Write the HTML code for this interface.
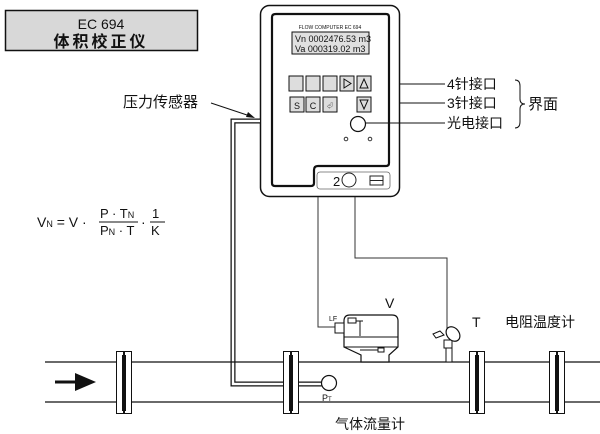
<!DOCTYPE html>
<html><head><meta charset="utf-8"><style>
body{margin:0;background:#fff}
svg{display:block}
text{font-family:"Liberation Sans","Noto Sans CJK SC",sans-serif;fill:#111}
</style></head><body>
<svg width="600" height="434" viewBox="0 0 600 434" xmlns="http://www.w3.org/2000/svg">
<rect x="5.5" y="10.5" width="192" height="40" fill="#d8d8d8" stroke="#111" stroke-width="1.5"/>
<text x="101" y="29" font-size="14" text-anchor="middle">EC 694</text>
<text x="101" y="47" font-size="16" font-weight="bold" text-anchor="middle" letter-spacing="3">体积校正仪</text>

<text x="123" y="107" font-size="15">压力传感器</text>
<line x1="211" y1="103" x2="250" y2="116" stroke="#111" stroke-width="1"/>
<polygon points="255,118 246,117 248,112" fill="#111"/>

<rect x="260.5" y="5.5" width="139" height="191" rx="9" fill="#fff" stroke="#111" stroke-width="1.5"/>
<path d="M276,14 H386 Q389,14 389,17 V163 Q389,166 386,166 H318 Q314,166 314,170 V183 Q314,186 311,186 H275 Q272,186 272,183 V17 Q272,14 276,14 Z" fill="none" stroke="#111" stroke-width="2.2"/>
<rect x="317" y="172" width="73" height="17" rx="3" fill="none" stroke="#666" stroke-width="0.8"/>
<text x="333" y="186" font-size="13" fill="#333">2</text>
<circle cx="349" cy="180" r="7" fill="#fff" stroke="#222" stroke-width="1"/>
<rect x="370" y="176" width="13" height="9" fill="none" stroke="#222" stroke-width="1"/>
<line x1="370" y1="180.5" x2="383" y2="180.5" stroke="#222"/>
<text x="330" y="29" font-size="5" text-anchor="middle" fill="#444">FLOW COMPUTER EC 694</text>
<rect x="292" y="32" width="77" height="22" fill="#e0e0e0" stroke="#111" stroke-width="1"/>
<text x="295" y="42" font-size="9">Vn 0002476.53 m3</text>
<text x="295" y="52" font-size="9">Va  000319.02 m3</text>
<g fill="#ddd" stroke="#111" stroke-width="1">
<rect x="289" y="76" width="14" height="15"/><rect x="306" y="76" width="14" height="15"/><rect x="323" y="76" width="14" height="15"/><rect x="340" y="76" width="14" height="15"/><rect x="357" y="76" width="14" height="15"/>
<rect x="290" y="97" width="14" height="15"/><rect x="306" y="97" width="14" height="15"/><rect x="323" y="97" width="14" height="15"/><rect x="357" y="97" width="14" height="15"/>
</g>
<path d="M344,79 L351,83.5 L344,88 Z" fill="none" stroke="#111"/>
<path d="M364,79 L368,88 L360,88 Z" fill="none" stroke="#111"/>
<path d="M360,100 L368,100 L364,109 Z" fill="none" stroke="#111"/>
<text x="297" y="109" font-size="9" text-anchor="middle">S</text>
<text x="313" y="109" font-size="9" text-anchor="middle">C</text>
<text x="330" y="108" font-size="6" text-anchor="middle">⏎</text>
<circle cx="358" cy="124" r="7.5" fill="#fff" stroke="#111" stroke-width="1.2"/>
<circle cx="346" cy="139" r="1.8" fill="none" stroke="#333"/>
<circle cx="370" cy="139" r="1.8" fill="none" stroke="#333"/>

<g stroke="#111" stroke-width="1">
<line x1="400" y1="84" x2="445" y2="84"/>
<line x1="400" y1="103" x2="445" y2="103"/>
<line x1="366" y1="123" x2="445" y2="123"/>
</g>
<text x="447" y="89" font-size="14">4针接口</text>
<text x="447" y="108" font-size="14">3针接口</text>
<text x="447" y="128" font-size="14">光电接口</text>
<path d="M515,80 Q520,80 520,86 V99 Q520,104 525,104 Q520,104 520,109 V122 Q520,128 515,128" fill="none" stroke="#111" stroke-width="1"/>
<text x="528" y="109" font-size="15">界面</text>

<text x="37" y="227" font-size="14">V<tspan font-size="9">N</tspan> = V ·</text>
<text x="100" y="218" font-size="13">P · T<tspan font-size="9">N</tspan></text>
<line x1="99" y1="222" x2="138" y2="222" stroke="#111"/>
<text x="100" y="235" font-size="13">P<tspan font-size="9">N</tspan> · T</text>
<text x="141" y="227" font-size="14">·</text>
<text x="152" y="218" font-size="13">1</text>
<line x1="150" y1="222" x2="165" y2="222" stroke="#111"/>
<text x="151" y="235" font-size="13">K</text>

<path d="M260,121 H233 V384 H326" fill="none" stroke="#111" stroke-width="5"/>
<path d="M260,121 H233 V384 H326" fill="none" stroke="#fff" stroke-width="2.5"/>

<path d="M318,197 V327 H336" fill="none" stroke="#333" stroke-width="1"/>
<path d="M355,197 V258 H447 V330" fill="none" stroke="#333" stroke-width="1"/>

<line x1="45" y1="362" x2="600" y2="362" stroke="#111" stroke-width="1.2"/>
<line x1="45" y1="402" x2="600" y2="402" stroke="#111" stroke-width="1.2"/>
<line x1="55" y1="382" x2="78" y2="382" stroke="#111" stroke-width="3"/>
<polygon points="75,373 96,382 75,391" fill="#111"/>
<g stroke="#111" stroke-width="1" fill="#fff">
<rect x="116.5" y="351.5" width="7" height="62"/><rect x="124.5" y="351.5" width="7" height="62"/>
<rect x="283.5" y="351.5" width="7" height="62"/><rect x="291.5" y="351.5" width="7" height="62"/>
<rect x="469.5" y="351.5" width="7" height="62"/><rect x="477.5" y="351.5" width="7" height="62"/>
<rect x="549.5" y="351.5" width="7" height="62"/><rect x="557.5" y="351.5" width="7" height="62"/>
</g>
<g fill="#111"><rect x="122" y="355" width="4" height="56"/><rect x="289" y="355" width="4" height="56"/><rect x="475" y="355" width="4" height="56"/><rect x="555" y="355" width="4" height="56"/></g>
<circle cx="329" cy="383" r="7.5" fill="#fff" stroke="#111" stroke-width="1.2"/>
<text x="322" y="401" font-size="9">P<tspan font-size="6">T</tspan></text>

<path d="M344,347 V321 Q344,315 350,315 H392 Q398,315 398,321 V347 L389,355 V362 H361 V355 Z" fill="#fff" stroke="#111" stroke-width="1.2"/>
<line x1="344" y1="337" x2="398" y2="337" stroke="#111"/>
<line x1="344" y1="347" x2="398" y2="347" stroke="#111"/>
<rect x="335" y="323" width="9" height="10" fill="#fff" stroke="#111"/>
<rect x="348" y="318" width="8" height="5" fill="none" stroke="#111"/>
<line x1="356" y1="321" x2="363" y2="321" stroke="#111"/><line x1="360" y1="321" x2="360" y2="336" stroke="#111"/>
<rect x="378" y="348" width="6" height="4" fill="none" stroke="#111"/><line x1="360" y1="350" x2="378" y2="350" stroke="#111"/>
<text x="329" y="321" font-size="7">LF</text>
<text x="385" y="308" font-size="14">V</text>

<rect x="444" y="340" width="8" height="8" fill="#fff" stroke="#111"/>
<rect x="446" y="348" width="6" height="14" fill="#fff" stroke="#111"/>
<ellipse cx="453" cy="334" rx="6" ry="8" transform="rotate(-40 453 334)" fill="#fff" stroke="#111" stroke-width="1.2"/>
<path d="M433,334 L440,331 L444,335 L436,338 Z" fill="#fff" stroke="#111"/>
<text x="472" y="327" font-size="14">T</text>
<text x="505" y="327" font-size="14">电阻温度计</text>
<text x="335" y="429" font-size="14">气体流量计</text>
</svg>
</body></html>
